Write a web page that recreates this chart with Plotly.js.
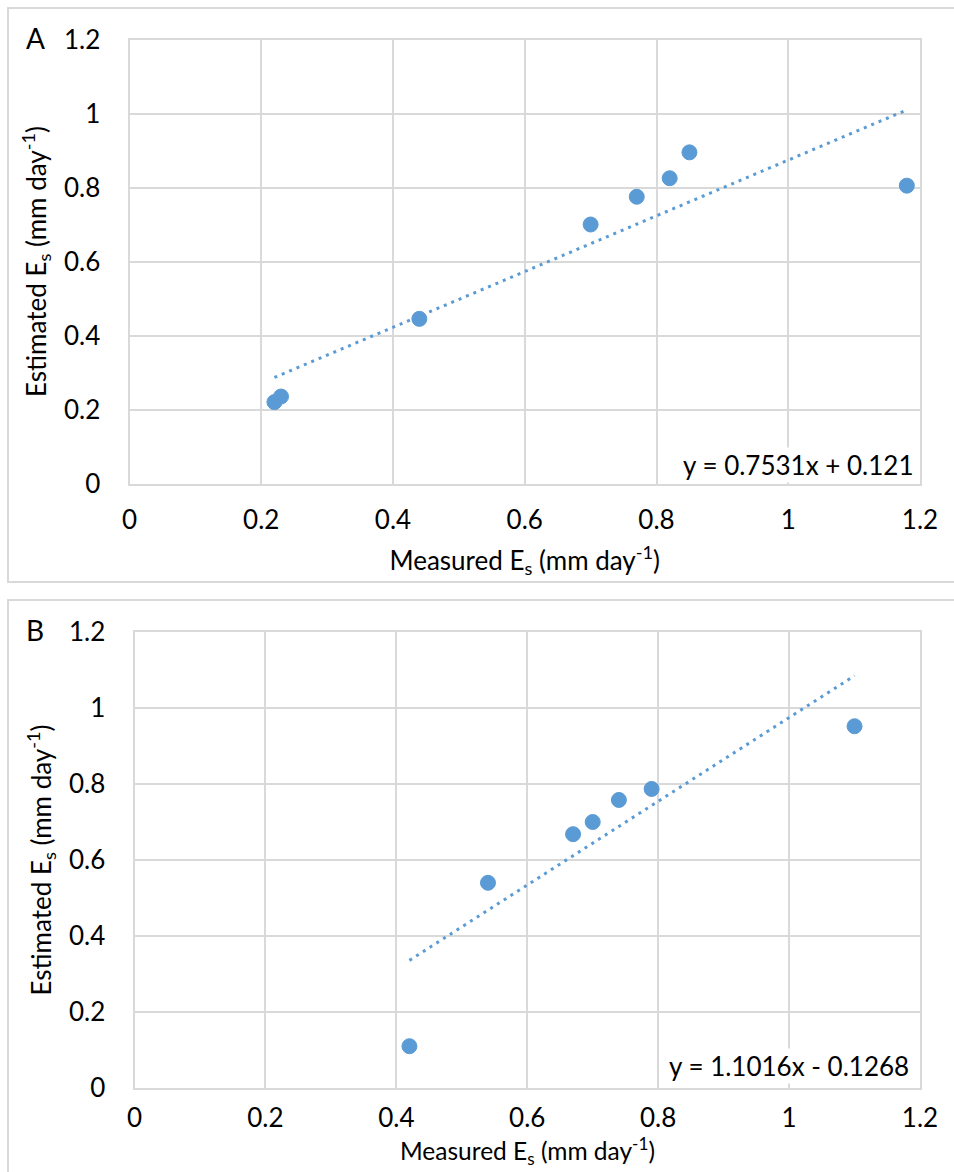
<!DOCTYPE html>
<html>
<head>
<meta charset="utf-8">
<script src="https://cdn.plot.ly/plotly-3.0.1.min.js"></script>
<style>
  html, body { margin: 0; padding: 0; background: #ffffff; }
  #chart { width: 954px; height: 1172px; }
</style>
</head>
<body>
<div id="chart"></div>
<script>
// ---- Data ----
const measuredA  = [0.22, 0.23, 0.44, 0.70, 0.77, 0.82, 0.85, 1.18];
const estimatedA = [0.22, 0.235, 0.445, 0.70, 0.775, 0.825, 0.895, 0.805];
const slopeA = 0.7531;
const interceptA = 0.121;
const equationA = "y = 0.7531x + 0.121";

const measuredB  = [0.42, 0.54, 0.67, 0.70, 0.74, 0.79, 1.10];
const estimatedB = [0.11, 0.54, 0.668, 0.70, 0.758, 0.787, 0.952];
const slopeB = 1.1016;
const interceptB = -0.1268;
const equationB = "y = 1.1016x - 0.1268";

const tickVals = [0, 0.2, 0.4, 0.6, 0.8, 1, 1.2];
const tickText = ["0", "0.2", "0.4", "0.6", "0.8", "1", "1.2"];
const panelLabels = ["A", "B"];
const xTitle = "Measured E<sub>s</sub> (mm day<sup>-1</sup>)";
const yTitle = "Estimated E<sub>s</sub> (mm day<sup>-1</sup>)";

// ---- Styling ----
const W = 954, H = 1172;
const BLUE = "#5b9bd5";
const GRID = "#d9d9d9";
const FONT = "Lato, 'Open Sans', sans-serif";
const TEXT = "#000000";
const FS = 26;

function trend(xs, m, b) {
  const lo = Math.min(...xs), hi = Math.max(...xs);
  return { x: [lo, hi], y: [m * lo + b, m * hi + b] };
}
const tA = trend(measuredA, slopeA, interceptA);
const tB = trend(measuredB, slopeB, interceptB);

const px = v => v / W;
const py = v => 1 - v / H;

const traces = [
  { x: tA.x, y: tA.y, xaxis: "x", yaxis: "y", mode: "lines", type: "scatter",
    line: { color: BLUE, width: 3, dash: "3px,5px" }, hoverinfo: "skip" },
  { x: measuredA, y: estimatedA, xaxis: "x", yaxis: "y", mode: "markers", type: "scatter",
    marker: { color: BLUE, size: 15, line: { color: BLUE, width: 1 } } },
  { x: tB.x, y: tB.y, xaxis: "x2", yaxis: "y2", mode: "lines", type: "scatter",
    line: { color: BLUE, width: 3, dash: "3px,5px" }, hoverinfo: "skip" },
  { x: measuredB, y: estimatedB, xaxis: "x2", yaxis: "y2", mode: "markers", type: "scatter",
    marker: { color: BLUE, size: 15, line: { color: BLUE, width: 1 } } }
];

function xAxis(domain, anchor, titleText, labelStandoff) {
  return {
    domain: domain, anchor: anchor, range: [0, 1.2],
    tickmode: "array", tickvals: tickVals, ticktext: tickText,
    showgrid: true, gridcolor: GRID, gridwidth: 2,
    showline: true, linecolor: GRID, linewidth: 2, mirror: true,
    zeroline: false, ticks: "", ticklabelstandoff: labelStandoff,
    tickfont: { family: FONT, size: FS, color: TEXT },
    title: { text: titleText, standoff: 18, font: { family: FONT, size: FS, color: TEXT } },
    fixedrange: true
  };
}
function yAxis(domain, anchor) {
  return {
    domain: domain, anchor: anchor, range: [0, 1.2],
    tickmode: "array", tickvals: tickVals, ticktext: tickText,
    showgrid: true, gridcolor: GRID, gridwidth: 2,
    showline: true, linecolor: GRID, linewidth: 2, mirror: true,
    zeroline: false, ticks: "", ticklabelstandoff: 22,
    tickfont: { family: FONT, size: FS, color: TEXT },
    title: { text: yTitle, standoff: 10, font: { family: FONT, size: FS, color: TEXT } },
    fixedrange: true
  };
}

const layout = {
  width: W, height: H,
  margin: { l: 0, r: 0, t: 0, b: 0 },
  paper_bgcolor: "#ffffff", plot_bgcolor: "#ffffff",
  showlegend: false,
  font: { family: FONT, color: TEXT },
  xaxis:  xAxis([px(129.5), px(920)], "y", xTitle, 12),
  yaxis:  yAxis([py(483.5), py(39.5)], "x"),
  xaxis2: xAxis([px(134.5), px(920)], "y2", "", 6),
  yaxis2: yAxis([py(1088), py(632)], "x2"),
  shapes: [
    { type: "rect", xref: "paper", yref: "paper",
      x0: px(8), x1: px(970), y0: py(582), y1: py(8),
      line: { color: GRID, width: 2 }, fillcolor: "rgba(0,0,0,0)", layer: "below" },
    { type: "rect", xref: "paper", yref: "paper",
      x0: px(8), x1: px(970), y0: py(1190), y1: py(600),
      line: { color: GRID, width: 2 }, fillcolor: "rgba(0,0,0,0)", layer: "below" }
  ],
  annotations: [
    { text: panelLabels[0], xref: "paper", yref: "paper", x: px(35), y: py(38),
      xanchor: "center", yanchor: "middle", showarrow: false,
      font: { family: FONT, size: 28, color: TEXT } },
    { text: panelLabels[1], xref: "paper", yref: "paper", x: px(35), y: py(630),
      xanchor: "center", yanchor: "middle", showarrow: false,
      font: { family: FONT, size: 28, color: TEXT } },
    { text: equationA, xref: "paper", yref: "paper", x: px(916), y: py(465),
      xanchor: "right", yanchor: "middle", showarrow: false, bgcolor: "#ffffff",
      font: { family: FONT, size: FS, color: TEXT } },
    { text: equationB, xref: "paper", yref: "paper", x: px(911), y: py(1066),
      xanchor: "right", yanchor: "middle", showarrow: false, bgcolor: "#ffffff",
      font: { family: FONT, size: FS, color: TEXT } },
    { text: xTitle, xref: "paper", yref: "paper", x: px(527), y: py(1171),
      xanchor: "center", yanchor: "bottom", showarrow: false,
      font: { family: FONT, size: 24.5, color: TEXT } }
  ]
};

Plotly.newPlot("chart", traces, layout, { staticPlot: true, displayModeBar: false });
</script>
</body>
</html>
